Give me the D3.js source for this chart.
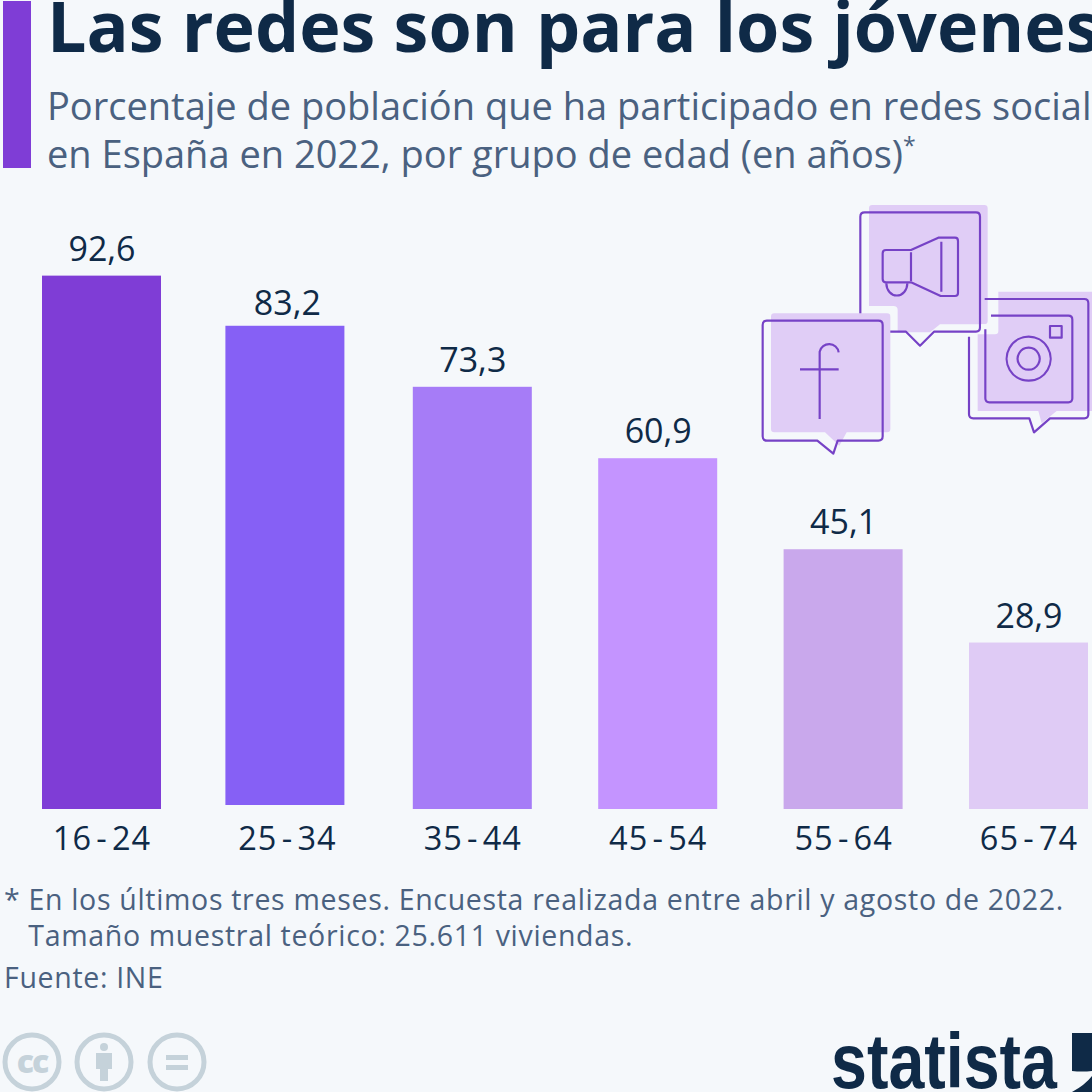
<!DOCTYPE html>
<html><head><meta charset="utf-8">
<script src="https://cdn.jsdelivr.net/npm/d3@7"></script>
<style>html,body{margin:0;padding:0;background:#f5f8fb;overflow:hidden}svg{display:block}text{font-family:"Open Sans",sans-serif}</style>
</head><body><div id="c"></div>
<script>
const categories = ["16-24","25-34","35-44","45-54","55-64","65-74"];
const values = [92.6,83.2,73.3,60.9,45.1,28.9];
const valueLabels = ["92,6","83,2","73,3","60,9","45,1","28,9"];
const barColors = ["#7f3dd6","#8660f5","#a67cf7","#c494ff","#c9a8ec","#dfcbf5"];
const title = "Las redes son para los jóvenes";
const subtitle = ["Porcentaje de población que ha participado en redes sociales","en España en 2022, por grupo de edad (en años)"];
const notes = ["* En los últimos tres meses. Encuesta realizada entre abril y agosto de 2022.","   Tamaño muestral teórico: 25.611 viviendas."];
const source = "Fuente: INE";

const W=1092,H=1092,bg="#f5f8fb",navy="#0f2a47",slate="#4a6180";
const svg=d3.select("#c").append("svg").attr("width",W).attr("height",H).attr("viewBox",`0 0 ${W} ${H}`);
svg.append("rect").attr("width",W).attr("height",H).attr("fill",bg);

// header
svg.append("rect").attr("x",3).attr("y",1).attr("width",28).attr("height",167).attr("fill","#7f3dd6");
svg.append("text").attr("x",47).attr("y",52).attr("font-size",70).attr("font-weight",700).attr("fill",navy).text(title);
subtitle.forEach((s,i)=>{
  const t=svg.append("text").attr("x",47).attr("y",120+i*48).attr("font-size",38).attr("fill",slate).text(s);
  if(i===1) t.append("tspan").attr("font-size",23).attr("dy",-14).text("*");
});

// chart
const x=d3.scalePoint().domain(categories).range([101.5,1028.5]);
const bw=119;
const y=d3.scaleLinear().domain([0,100]).range([809,233]);
const liftY=i=>i===1?4:0, shiftX=i=>i===1?-2:0;
const g=svg.append("g");
g.selectAll("rect").data(categories).join("rect")
  .attr("x",(d,i)=>x(d)-bw/2+shiftX(i)).attr("width",bw)
  .attr("y",(d,i)=>y(values[i])-liftY(i)).attr("height",(d,i)=>y(0)-y(values[i]))
  .attr("fill",(d,i)=>barColors[i]);
g.selectAll("text.v").data(categories).join("text").attr("class","v")
  .attr("x",d=>x(d)+0.5).attr("y",(d,i)=>y(values[i])-15).attr("text-anchor","middle")
  .attr("font-size",34).attr("fill",navy).text((d,i)=>valueLabels[i]);
const axis=d3.axisBottom(x).tickSize(0).tickPadding(0);
const ax=svg.append("g").attr("transform","translate(0,809)").call(axis);
ax.select(".domain").remove();
ax.selectAll("text").attr("y",0).attr("dy",0).attr("transform","translate(0,41)")
  .style("font-family",'"Open Sans",sans-serif').attr("font-size",32.5).attr("fill",navy)
  .style("letter-spacing","1px").text(d=>d.replace("-"," - ").replace(/ /g,"\u200a"));

// notes
notes.forEach((n,i)=>svg.append("text").attr("x",4).attr("y",910+i*36).attr("font-size",28.5).attr("fill",slate).style("letter-spacing","0.68px").style("white-space","pre").text(n));
svg.append("text").attr("x",4).attr("y",988).attr("font-size",28.5).attr("fill",slate).style("letter-spacing","0.68px").text(source);

// illustration
const ic=svg.append("g").attr("transform",`translate(750,195) scale(${1/3})`);
const line="#7642c6",soft="#e0cdf6";
const S=d=>ic.append("path").attr("d",d).attr("fill","none").attr("stroke",line).attr("stroke-width",6.5).attr("stroke-linejoin","round");
const F=d=>ic.append("path").attr("d",d).attr("fill",soft);
F("M357 40Q357 30 367 30H703Q713 30 713 40V378Q713 388 703 388H570L540 412H443V345Q443 333 430 333H357Z");
S("M331 362V65Q331 52 344 52H678Q690 52 690 65V397Q690 410 678 410H552L510 452L468 410H412");
S("M398 175Q398 165 408 165H483L565 128H615Q624 128 624 138V294Q624 303 615 303H572L483 262H408Q398 262 398 252Z");
S("M483 172V258M574 140V290M409 265A31 36 0 0 0 472 265");
ic.append("rect").attr("x",693).attr("y",388).attr("width",52).attr("height",30).attr("fill",bg);
F("M745 290H1030V648H920L875 685L865 648H683V418H735Q745 418 745 408Z");
S("M704 312H1003Q1015 312 1015 325V658Q1015 670 1003 670H900L852 712L838 670H670Q657 670 657 658V425");
S("M723 362H955Q967 362 967 374V610Q967 622 955 622H718Q706 622 706 610V403");
S("M836 425A66 66 0 1 1 835.9 425ZM836 458A33 33 0 1 1 835.9 458Z");
S("M900 393H935V428H900Z");
F("M63 365Q63 355 73 355H411Q421 355 421 365V702Q421 712 411 712H290L268 752L225 712H73Q63 712 63 702Z");
S("M50 377H385Q398 377 398 390V724Q398 737 385 737H263L250 776L202 737H51Q38 737 38 724V390Q38 377 51 377Z");
S("M209 672V470A29 29 0 0 1 266 472M150 523H266");

// licence icons
const gray="#c5d2da";
[32,104,177].forEach(c=>svg.append("circle").attr("cx",c).attr("cy",1062).attr("r",27).attr("fill","none").attr("stroke",gray).attr("stroke-width",5));
svg.append("text").attr("x",32).attr("y",1073).attr("text-anchor","middle").attr("font-size",32).attr("font-weight",800).attr("fill",gray).style("letter-spacing","-2px").text("cc");
svg.append("circle").attr("cx",104).attr("cy",1047).attr("r",4).attr("fill",gray);
svg.append("path").attr("d","M96 1053H112V1069H108V1081H100V1069H96Z").attr("fill",gray);
svg.append("path").attr("d","M166 1055H188V1060H166ZM166 1065H188V1070H166Z").attr("fill",gray);

// logo
svg.append("text").attr("x",831).attr("y",1088).attr("font-size",77).attr("font-weight",700).attr("fill",navy)
  .attr("textLength",226).attr("lengthAdjust","spacingAndGlyphs").style("font-family",'"Liberation Sans Narrow","Liberation Sans",sans-serif').text("statista");
svg.append("path").attr("fill",navy).attr("d","M1072 1033H1092V1071Q1082 1072 1072 1071ZM1072 1092Q1085 1085 1092 1076V1092Z");
</script></body></html>
